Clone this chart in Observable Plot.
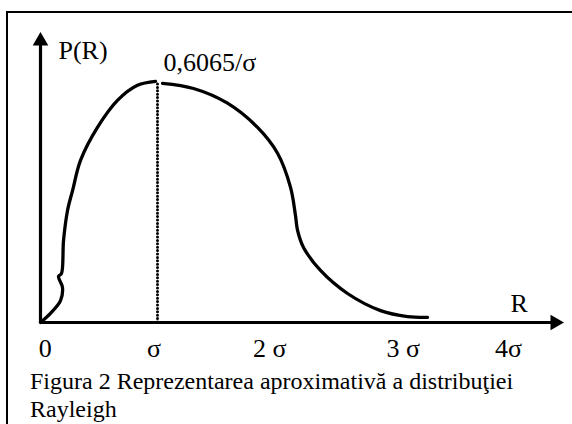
<!DOCTYPE html>
<html>
<head>
<meta charset="utf-8">
<script src="https://cdn.jsdelivr.net/npm/d3@7"></script>
<script src="https://cdn.jsdelivr.net/npm/@observablehq/plot@0.6"></script>
<style>
  html, body { margin: 0; padding: 0; background: #fff; }
  body { position: relative; width: 572px; height: 424px; overflow: hidden; font-family: "Liberation Serif", "Times New Roman", serif; }
  #frame { position: absolute; left: 6px; top: 11px; width: 700px; height: 600px; border-left: 2px solid #000; border-top: 2px solid #000; }
  #chart { position: absolute; left: 0; top: 0; }
  #caption { position: absolute; left: 30px; top: 367px; font-size: 24px; line-height: 28px; color: #000; white-space: nowrap; }
</style>
</head>
<body>
<div id="frame"></div>
<div id="chart"></div>
<div id="caption">Figura 2 Reprezentarea aproximativă a distribuţiei<br>Rayleigh</div>
<script>
// Curve (R in units of σ, P(R) in units of 1/σ)
const curveR = [0, 0.085, 0.171, 0.188, 0.154, 0.179, 0.197, 0.231, 0.274, 0.342, 0.487, 0.658, 0.829, 0.983,
                1.043, 1.308, 1.598, 1.855, 2.026, 2.137, 2.179, 2.197, 2.248, 2.393, 2.624, 2.906, 3.137, 3.308];
const curveP = [0, 0.023, 0.055, 0.088, 0.116, 0.123, 0.207, 0.282, 0.332, 0.408, 0.491, 0.559, 0.597, 0.607,
                0.602, 0.589, 0.552, 0.491, 0.426, 0.340, 0.270, 0.232, 0.189, 0.131, 0.073, 0.030, 0.015, 0.013];
const curveSeg = [0,0,0,0,0,0,0,0,0,0,0,0,0,0, 1,1,1,1,1,1,1,1,1,1,1,1,1,1];

const peakR = 1;
const peakP = 0.6065;
const peakLabel = "0,6065/σ";

const tickLabels = ["0", "σ", "2 σ", "3 σ", "4σ"];
const tickLabelR = [0.04, 0.97, 1.96, 3.10, 4.0];

const xMax = 4.47;
const yMax = 0.73;

const curve = curveR.map((r, i) => ({r, p: curveP[i], seg: curveSeg[i]}));
const ticks = tickLabels.map((t, i) => ({t, r: tickLabelR[i]}));
const serif = "Liberation Serif";

const plot = Plot.plot({
  width: 572,
  height: 365,
  style: {background: "transparent", overflow: "visible"},
  x: {domain: [0, xMax], range: [40, 563], axis: null},
  y: {domain: [0, yMax], range: [322, 32], axis: null},
  marks: [
    // axes
    Plot.ruleY([0], {x1: 0, x2: xMax - 0.1, strokeWidth: 3.2, stroke: "black"}),
    Plot.ruleX([0], {y1: 0, y2: yMax - 0.03, strokeWidth: 3.2, stroke: "black"}),
    Plot.dot([0], {x: xMax, y: 0, symbol: "triangle", rotate: 90, r: 5.8, fill: "black", stroke: "none", dx: -8.5}),
    Plot.dot([0], {x: 0, y: yMax, symbol: "triangle", r: 5.8, fill: "black", stroke: "none", dy: 8.5}),
    // dotted line at the mode
    Plot.ruleX([peakR], {y1: 0, y2: peakP, stroke: "black", strokeWidth: 3, strokeDasharray: "0 3.4", strokeLinecap: "round"}),
    // curve
    Plot.line(curve, {x: "r", y: "p", z: "seg", curve: "catmull-rom", stroke: "black", strokeWidth: 3.3}),
    // tick labels
    Plot.text(ticks, {x: "r", y: () => 0, text: "t", dy: 26, fontSize: 26, fontFamily: serif, fill: "black"}),
    // axis labels
    Plot.text(["P(R)"], {x: 0, y: yMax, text: d => d, textAnchor: "start", dx: 18, dy: 18, fontSize: 26, fontFamily: serif, fill: "black"}),
    Plot.text(["R"], {x: xMax, y: 0, text: d => d, textAnchor: "start", dx: -53, dy: -19, fontSize: 26, fontFamily: serif, fill: "black"}),
    Plot.text([peakLabel], {x: peakR, y: peakP, text: d => d, textAnchor: "start", dx: 6, dy: -19, fontSize: 26, fontFamily: serif, fill: "black"})
  ]
});
document.getElementById("chart").appendChild(plot);
</script>
</body>
</html>
